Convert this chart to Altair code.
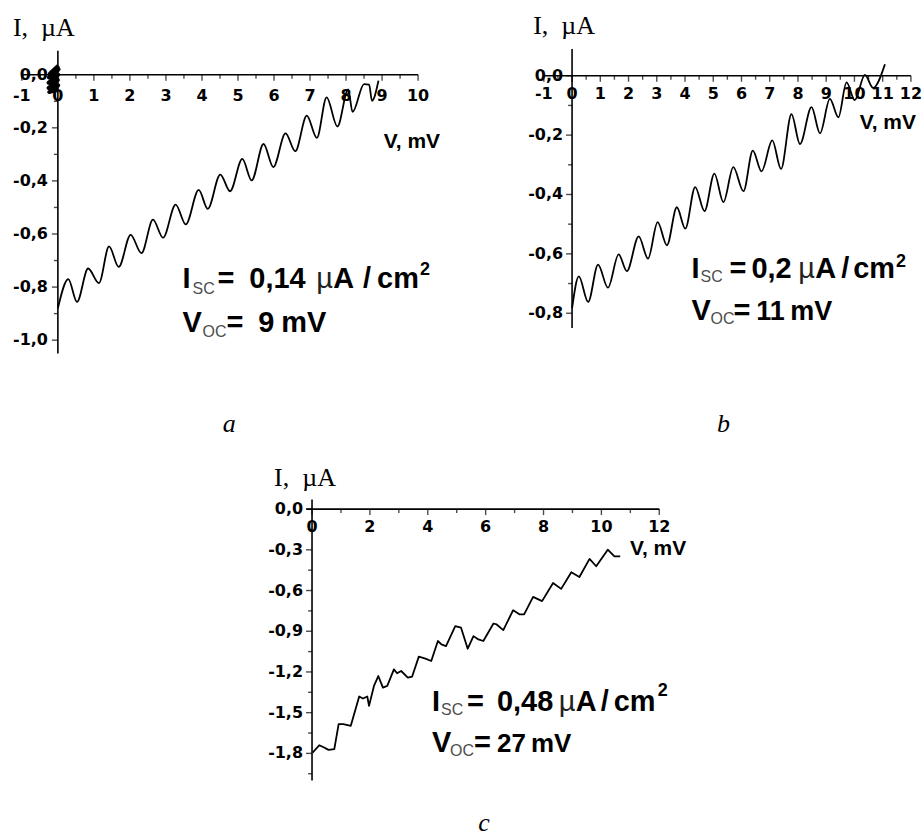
import altair as alt
import pandas as pd

# ---------------- I-V curves (V in mV, I in µA) ----------------
# panel a
va = [0.0, 0.29, 0.53, 0.84, 1.14, 1.42, 1.69, 2.02, 2.32, 2.64, 2.92, 3.27, 3.55,
      3.91, 4.16, 4.51, 4.78, 5.12, 5.38, 5.71, 5.98, 6.32, 6.59, 6.91, 7.19, 7.46,
      7.76, 8.06, 8.18, 8.5, 8.64, 8.72, 8.9]
ia = [-0.88, -0.77, -0.856, -0.73, -0.785, -0.647, -0.724, -0.603, -0.672, -0.546,
      -0.614, -0.489, -0.564, -0.434, -0.505, -0.376, -0.439, -0.317, -0.398, -0.261,
      -0.348, -0.221, -0.288, -0.154, -0.238, -0.085, -0.195, -0.055, -0.14, -0.035,
      -0.037, -0.098, -0.022]
# tangle of readings recorded around the origin in panel a
va0 = [0.02, -0.22, 0.02, -0.25, 0.01, -0.26, 0.0, -0.26, 0.01, -0.24, 0.02]
ia0 = [0.035, 0.005, 0.02, -0.01, 0.0, -0.03, -0.02, -0.05, -0.04, -0.065, -0.055]

# panel b
vb = [0.0, 0.24, 0.57, 0.92, 1.27, 1.65, 1.94, 2.36, 2.69, 3.03, 3.36, 3.71, 4.01,
      4.36, 4.69, 5.04, 5.36, 5.71, 6.07, 6.40, 6.71, 7.09, 7.40, 7.77, 8.07, 8.48,
      8.78, 9.13, 9.43, 9.72, 10.01, 10.37, 10.66, 11.08]
ib = [-0.784, -0.676, -0.762, -0.636, -0.714, -0.602, -0.658, -0.541, -0.616, -0.493,
      -0.571, -0.443, -0.515, -0.375, -0.456, -0.330, -0.426, -0.308, -0.389, -0.252,
      -0.322, -0.218, -0.314, -0.129, -0.230, -0.106, -0.194, -0.078, -0.140, -0.022,
      -0.082, 0.003, -0.041, 0.039]

# panel c
vc = [0.02, 0.25, 0.42, 0.57, 0.77, 0.92, 1.08, 1.34, 1.63, 1.76, 1.91, 1.97, 2.14,
      2.29, 2.45, 2.60, 2.83, 2.94, 3.08, 3.31, 3.46, 3.69, 3.92, 4.12, 4.35, 4.47,
      4.63, 4.95, 5.15, 5.38, 5.58, 5.75, 5.92, 6.27, 6.38, 6.61, 6.95, 7.18, 7.33,
      7.64, 7.95, 8.33, 8.61, 8.96, 9.24, 9.59, 9.82, 10.22, 10.45, 10.65]
ic = [-1.794, -1.740, -1.757, -1.774, -1.768, -1.585, -1.585, -1.597, -1.381, -1.396,
      -1.381, -1.450, -1.303, -1.230, -1.315, -1.303, -1.181, -1.210, -1.193, -1.242,
      -1.234, -1.087, -1.102, -1.119, -0.972, -0.997, -1.009, -0.862, -0.874, -1.029,
      -0.936, -0.960, -0.972, -0.843, -0.850, -0.892, -0.745, -0.776, -0.776, -0.647,
      -0.678, -0.544, -0.588, -0.465, -0.500, -0.367, -0.421, -0.299, -0.348, -0.348]

# ---------------- axis ticks ----------------
xa_major = [-1, 0, 1, 2, 3, 4, 5, 6, 7, 8, 9, 10]
xa_minor = [-0.5, 0.5, 1.5, 2.5, 3.5, 4.5, 5.5, 6.5, 7.5, 8.5, 9.5]
ya_major = [0.0, -0.2, -0.4, -0.6, -0.8, -1.0]
ya_minor = [-0.1, -0.3, -0.5, -0.7, -0.9]

xb_major = [-1, 0, 1, 2, 3, 4, 5, 6, 7, 8, 9, 10, 11, 12]
xb_minor = [-0.5, 0.5, 1.5, 2.5, 3.5, 4.5, 5.5, 6.5, 7.5, 8.5, 9.5, 10.5, 11.5]
yb_major = [0.0, -0.2, -0.4, -0.6, -0.8]
yb_minor = [-0.1, -0.3, -0.5, -0.7]

xc_major = [0, 2, 4, 6, 8, 10, 12]
xc_minor = [1, 3, 5, 7, 9, 11]
yc_major = [0.0, -0.3, -0.6, -0.9, -1.2, -1.5, -1.8]
yc_minor = [-0.15, -0.45, -0.75, -1.05, -1.35, -1.65, -1.95]

# short-circuit current density and open-circuit voltage of each sample
isc = ["0,14", "0,2", "0,48"]
voc = ["9", "11", "27"]
letters = ["a", "b", "c"]

TICK_FONT = "DejaVu Sans"
SANS = "Liberation Sans"
SERIF = "Liberation Serif"
SUB_GREY = "#4d4d4d"
MAIN = 29
SUB = 16


def comma(v, digits=1):
    return f"{v:.{digits}f}".replace(".", ",")


def panel(cfg):
    W, H = cfg["size"]
    ox, oy = cfg["origin"]          # pixel position of V=0, I=0 inside the view
    kx, ky = cfg["ppu"]             # pixels per mV and per µA
    sx = alt.Scale(domain=[-ox / kx, (W - ox) / kx], nice=False, zero=False)
    sy = alt.Scale(domain=[-(H - oy) / ky, oy / ky], nice=False, zero=False)
    X = alt.X("x:Q", scale=sx, axis=None)
    Y = alt.Y("y:Q", scale=sy, axis=None)

    layers = []
    xs0, xs1 = cfg["xspan"]
    ys0, ys1 = cfg["yspan"]

    # axis lines crossing at the origin
    axes_df = pd.DataFrame({"x": [xs0, 0], "x2": [xs1, 0], "y": [0, ys0], "y2": [0, ys1]})
    layers.append(alt.Chart(axes_df).mark_rule(color="black", strokeWidth=1.6)
                  .encode(x=X, x2="x2:Q", y=Y, y2="y2:Q"))

    # ticks
    for vals, size in ((cfg["xmajor"], 6), (cfg["xminor"], 4)):
        df = pd.DataFrame({"x": vals, "y": [0] * len(vals)})
        layers.append(alt.Chart(df).mark_tick(orient="vertical", size=size, thickness=1.4,
                                              yOffset=size / 2, color="black")
                      .encode(x=X, y=Y))
    for vals, size in ((cfg["ymajor"], 6), (cfg["yminor"], 4)):
        df = pd.DataFrame({"x": [0] * len(vals), "y": vals})
        layers.append(alt.Chart(df).mark_tick(orient="horizontal", size=size, thickness=1.4,
                                              xOffset=-size / 2, color="black")
                      .encode(x=X, y=Y))

    # tick labels
    xl = pd.DataFrame({"x": cfg["xmajor"], "y": [0] * len(cfg["xmajor"]),
                       "t": [str(v) for v in cfg["xmajor"]]})
    layers.append(alt.Chart(xl).mark_text(font=TICK_FONT, fontSize=16, fontWeight="bold",
                                          align="center", baseline="alphabetic",
                                          dy=cfg["xlab_dy"], color="black")
                  .encode(x=X, y=Y, text="t:N"))
    yl = pd.DataFrame({"x": [0] * len(cfg["ymajor"]), "y": cfg["ymajor"],
                       "t": [comma(v) for v in cfg["ymajor"]]})
    layers.append(alt.Chart(yl).mark_text(font=TICK_FONT, fontSize=16, fontWeight="bold",
                                          align="right", baseline="middle",
                                          dx=cfg["ylab_dx"], color="black")
                  .encode(x=X, y=Y, text="t:N"))

    # curves
    for (v, i, interp, sw) in cfg["curves"]:
        df = pd.DataFrame({"x": v, "y": i})
        layers.append(alt.Chart(df).mark_line(color="black", strokeWidth=sw,
                                              interpolate=interp, strokeJoin="round")
                      .encode(x=X, y=Y, order="index:Q")
                      .transform_window(index="row_number()"))

    def label(x, y, text, **mark):
        df = pd.DataFrame({"x": [x], "y": [y], "t": [text]})
        return alt.Chart(df).mark_text(color=mark.pop("color", "black"), **mark).encode(
            x=X, y=Y, text="t:N")

    # axis titles
    tdx, tdy = cfg["ytitle_off"]
    layers.append(label(0, ys1, "I,\u00a0\u00a0\u00b5A", font=SERIF, fontSize=26,
                        align="left", baseline="alphabetic", dx=tdx, dy=tdy))
    tdx, tdy = cfg["xtitle_off"]
    layers.append(label(xs1, 0, "V, mV", font=SANS, fontSize=21, fontWeight="bold",
                        align="right", baseline="alphabetic", dx=tdx, dy=tdy))

    # I_SC / V_OC annotation, built piece by piece
    for (ax, ay), pieces in cfg["notes"]:
        for text, dx, dy, size, weight, colour in pieces:
            layers.append(label(ax, ay, text, font=SANS, fontSize=size, fontWeight=weight,
                                align="left", baseline="alphabetic", dx=dx, dy=dy,
                                color=colour))

    # panel letter
    lx, ly = cfg["letter_at"]
    layers.append(label(lx, ly, cfg["letter"], font=SERIF, fontSize=26, fontStyle="italic",
                        align="center", baseline="alphabetic"))

    return alt.layer(*layers).properties(width=W, height=H)


def isc_pieces(value, d):
    # d: offsets of "SC" (dx, dy), "=", value, "µ", "A", "/", "cm", "2" (dx, dy)
    return [
        ("I", 0, 0, MAIN, "bold", "black"),
        ("SC", d[0], d[1], SUB, "normal", SUB_GREY),
        ("=", d[2], 0, MAIN, "bold", "black"),
        (value, d[3], 0, MAIN, "bold", "black"),
        ("\u00b5", d[4], 0, MAIN, "normal", "#222222"),
        ("A", d[5], 0, MAIN, "bold", "black"),
        ("/", d[6], 0, MAIN, "bold", "black"),
        ("cm", d[7], 0, MAIN, "bold", "black"),
        ("2", d[8], d[9], 18, "bold", "black"),
    ]


def voc_pieces(value, d, size=MAIN):
    return [
        ("V", 0, 0, MAIN, "bold", "black"),
        ("OC", d[0], d[1], SUB, "normal", SUB_GREY),
        ("=", d[2], 0, MAIN, "bold", "black"),
        (value, d[3], 0, size, "bold", "black"),
        ("mV", d[4], 0, size, "bold", "black"),
    ]


cfg_a = dict(
    size=(461, 460), origin=(58, 74), ppu=(36.1, 266.0),
    xspan=(-1, 10), yspan=(-1.05, 0.09),
    xmajor=xa_major, xminor=xa_minor, ymajor=ya_major, yminor=ya_minor,
    xlab_dy=26, ylab_dx=-10,
    curves=[(va, ia, "monotone", 1.8), (va0, ia0, "linear", 4.0)],
    ytitle_off=(-45, -15), xtitle_off=(22, 73),
    notes=[((3.46, -0.805), isc_pieces(isc[0], [10, 6, 35, 67, 134, 151, 181, 195, 238, -13])),
           ((3.46, -0.97), voc_pieces(voc[0], [20, 5, 44, 76, 99]))],
    letter=letters[0], letter_at=(4.76, -1.346),
)

cfg_b = dict(
    size=(462, 460), origin=(112.3, 75), ppu=(28.3, 297.5),
    xspan=(-1, 12), yspan=(-0.85, 0.09),
    xmajor=xb_major, xminor=xb_minor, ymajor=yb_major, yminor=yb_minor,
    xlab_dy=23, ylab_dx=-9,
    curves=[(vb, ib, "monotone", 1.8)],
    ytitle_off=(-39, -15), xtitle_off=(5, 53),
    notes=[((4.23, -0.682), isc_pieces(isc[1], [9, 4, 38, 60, 107, 124, 150, 162, 205, -11])),
           ((4.23, -0.824), voc_pieces(voc[1], [19, 4, 42, 65, 99], size=27))],
    letter=letters[1], letter_at=(5.36, -1.20),
)

cfg_c = dict(
    size=(923, 378), origin=(312.7, 49.3), ppu=(29.0, 136.0),
    xspan=(-0.2, 12), yspan=(-2.0, 0.07),
    xmajor=xc_major, xminor=xc_minor, ymajor=yc_major, yminor=yc_minor,
    xlab_dy=23, ylab_dx=-9,
    curves=[(vc, ic, "linear", 1.8)],
    ytitle_off=(-38, -14), xtitle_off=(27, 46),
    notes=[((4.15, -1.49), isc_pieces(isc[2], [9, 4, 35, 65, 127, 144, 169, 182, 226, -15])),
           ((4.15, -1.792), voc_pieces(voc[2], [18, 4, 42, 65, 99], size=26))],
    letter=letters[2], letter_at=(5.94, -2.37),
)

top = alt.hconcat(panel(cfg_a), panel(cfg_b), spacing=0)
chart = (
    alt.vconcat(top, panel(cfg_c), spacing=0)
    .properties(padding=0, background="white")
    .configure_view(strokeWidth=0)
)

chart.save("out.html", embed_options={"renderer": "svg", "actions": False})
